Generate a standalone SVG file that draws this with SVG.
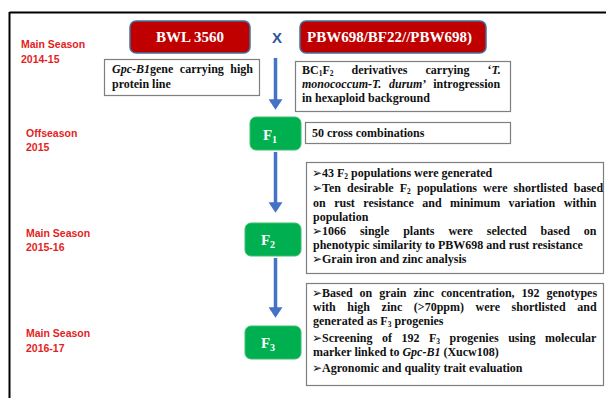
<svg xmlns="http://www.w3.org/2000/svg" width="606" height="398" viewBox="0 0 606 398">
<defs>
<style>
.season{font-family:"Liberation Sans",Arial,sans-serif;font-weight:bold;font-size:10.5px;fill:#E31E24}
.parent{fill:#C00000;stroke:#41719C;stroke-width:1.5}
.ptxt{font-family:"Liberation Serif","Times New Roman",serif;font-weight:bold;font-size:15px;fill:#ffffff}
.gen{fill:#00B050;stroke:#3CBF6A;stroke-width:1}
.gtxt{font-family:"Liberation Serif","Times New Roman",serif;font-weight:bold;font-size:15px;fill:#ffffff}
.note{fill:#ffffff;stroke:#7F7F7F;stroke-width:1.2}
.t{font-family:"Liberation Serif","Times New Roman",serif;font-weight:bold;font-size:12px;fill:#111111}
.i{font-style:italic}
.b{font-family:"DejaVu Sans",sans-serif;font-size:12px}
.conn{stroke:#4472C4;stroke-width:3.5;fill:none}
</style>
<marker id="ah" markerWidth="4" markerHeight="4" refX="2.2" refY="2" orient="auto" markerUnits="strokeWidth">
<path d="M0,0 L3,2 L0,4 Z" fill="#4472C4"/>
</marker>
</defs>
<rect width="606" height="398" fill="#ffffff"/>
<g id="frame" stroke="#000000" stroke-width="2">
<line x1="9.5" y1="12.5" x2="606" y2="12.5"/>
<line x1="9.5" y1="12" x2="9.5" y2="398"/>
</g>
<g id="seasons">
<text class="season" x="21" y="48">Main Season</text>
<text class="season" x="21" y="63">2014-15</text>
<text class="season" x="26" y="137">Offseason</text>
<text class="season" x="26" y="151">2015</text>
<text class="season" x="26" y="237">Main Season</text>
<text class="season" x="26" y="251">2015-16</text>
<text class="season" x="26" y="337">Main Season</text>
<text class="season" x="26" y="352">2016-17</text>
</g>
<g id="connectors">
<line class="conn" x1="275.5" y1="58" x2="275.5" y2="107" marker-end="url(#ah)"/>
<line class="conn" x1="275.5" y1="152" x2="275.5" y2="210" marker-end="url(#ah)"/>
<line class="conn" x1="275.5" y1="258" x2="275.5" y2="315" marker-end="url(#ah)"/>
</g>
<g id="bwl3560">
<rect class="parent" x="130" y="21" width="120" height="32" rx="6"/>
<text class="ptxt" x="190" y="42" text-anchor="middle">BWL 3560</text>
</g>
<g id="cross">
<text x="277" y="43" text-anchor="middle" font-family="Liberation Sans,Arial,sans-serif" font-weight="bold" font-size="15" fill="#2F5597">X</text>
</g>
<g id="pbw698">
<rect class="parent" x="300" y="21" width="186" height="32" rx="6"/>
<text class="ptxt" x="307" y="42">PBW698/BF22//PBW698)</text>
</g>
<g id="note-bwl">
<rect class="note" x="104.5" y="59.5" width="155" height="36"/>
<text class="t" x="112" y="73" word-spacing="3.5"><tspan class="i">Gpc-B1</tspan>gene carrying high</text>
<text class="t" x="112" y="88">protein line</text>
</g>
<g id="note-pbw">
<rect class="note" x="295.5" y="61.5" width="215" height="50"/>
<text class="t" x="302" y="74" word-spacing="15">BC<tspan font-size="7.5" dy="2">1</tspan><tspan dy="-2">F</tspan><tspan font-size="7.5" dy="2">2</tspan><tspan dy="-2"> derivatives carrying ‘</tspan><tspan class="i">T.</tspan></text>
<text class="t" x="302" y="88" word-spacing="4.8"><tspan class="i">monococcum-T. durum</tspan>’ introgression</text>
<text class="t" x="302" y="102">in hexaploid background</text>
</g>
<g id="f1">
<rect class="gen" x="250" y="117" width="51" height="33" rx="6"/>
<text class="gtxt" x="270" y="139.5" text-anchor="middle">F<tspan font-size="10" dy="3">1</tspan></text>
</g>
<g id="note-f1">
<rect class="note" x="305.5" y="122.5" width="205" height="21"/>
<text class="t" x="312" y="137">50 cross combinations</text>
</g>
<g id="f2">
<rect class="gen" x="245" y="223" width="56" height="33" rx="6"/>
<text class="gtxt" x="268" y="245" text-anchor="middle">F<tspan font-size="10" dy="3">2</tspan></text>
</g>
<g id="note-f2">
<rect class="note" x="306.5" y="162.5" width="297" height="111"/>
<text class="t" y="177"><tspan class="b" x="312">➢</tspan><tspan x="322">43 F</tspan><tspan font-size="7.5" dy="2">2</tspan><tspan dy="-2"> populations were generated</tspan></text>
<text class="t" y="192" word-spacing="3.1"><tspan class="b" x="312" word-spacing="0">➢</tspan><tspan x="322">Ten desirable F</tspan><tspan font-size="7.5" dy="2">2</tspan><tspan dy="-2"> populations were shortlisted based</tspan></text>
<text class="t" x="313" y="207" word-spacing="5.5">on rust resistance and minimum variation within</text>
<text class="t" x="313" y="221">population</text>
<text class="t" y="235" word-spacing="10.9"><tspan class="b" x="312" word-spacing="0">➢</tspan><tspan x="322">1066 single plants were selected based on</tspan></text>
<text class="t" x="313" y="249">phenotypic similarity to PBW698 and rust resistance</text>
<text class="t" y="263"><tspan class="b" x="312">➢</tspan><tspan x="322">Grain iron and zinc analysis</tspan></text>
</g>
<g id="f3">
<rect class="gen" x="245" y="326" width="56" height="33" rx="6"/>
<text class="gtxt" x="268" y="348" text-anchor="middle">F<tspan font-size="10" dy="3">3</tspan></text>
</g>
<g id="note-f3">
<rect class="note" x="306.5" y="283.5" width="297" height="102"/>
<text class="t" y="297" word-spacing="3.9"><tspan class="b" x="312" word-spacing="0">➢</tspan><tspan x="322">Based on grain zinc concentration, 192 genotypes</tspan></text>
<text class="t" x="313" y="311" word-spacing="8.6">with high zinc (&gt;70ppm) were shortlisted and</text>
<text class="t" x="313" y="325">generated as F<tspan font-size="7.5" dy="2">3</tspan><tspan dy="-2"> progenies</tspan></text>
<text class="t" y="342" word-spacing="6.5"><tspan class="b" x="312" word-spacing="0">➢</tspan><tspan x="322">Screening of 192 F</tspan><tspan font-size="7.5" dy="2">3</tspan><tspan dy="-2"> progenies using molecular</tspan></text>
<text class="t" x="313" y="356">marker linked to <tspan class="i">Gpc-B1</tspan> (Xucw108)</text>
<text class="t" y="372"><tspan class="b" x="312">➢</tspan><tspan x="322">Agronomic and quality trait evaluation</tspan></text>
</g>
</svg>
